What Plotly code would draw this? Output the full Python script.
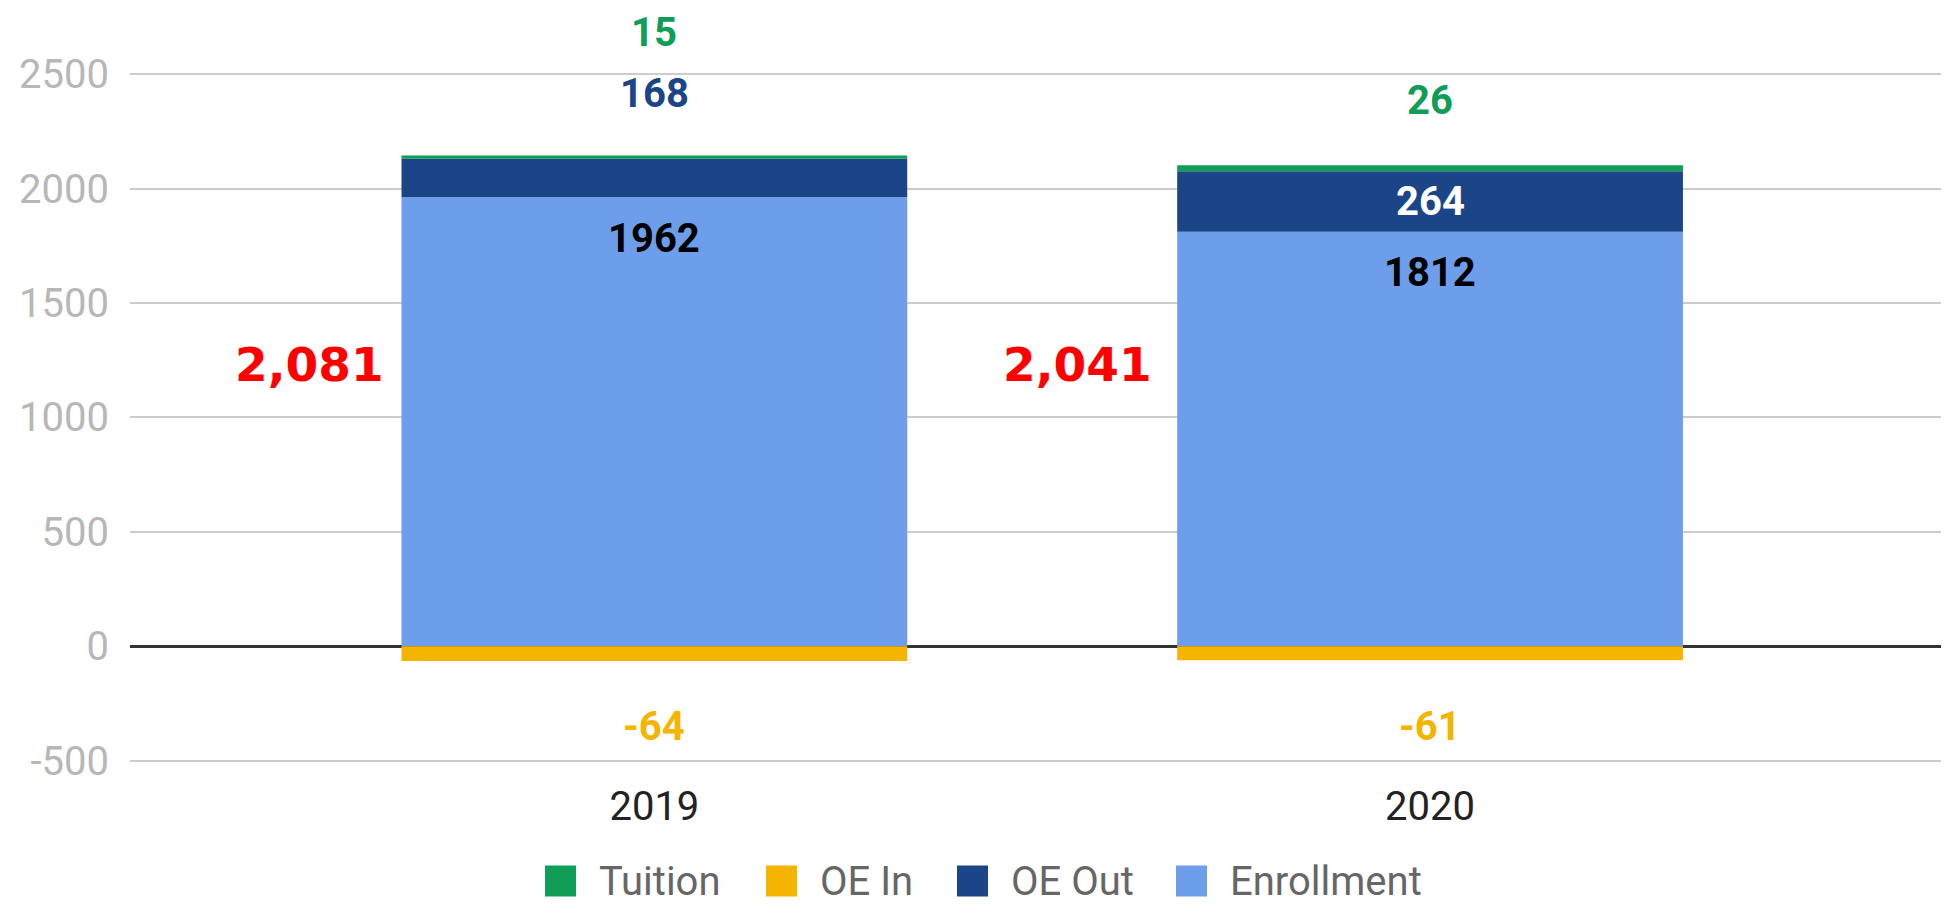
import plotly.graph_objects as go

years = ["2019", "2020"]
enrollment = [1962, 1812]
oe_out = [168, 264]
tuition = [15, 26]
oe_in = [-64, -61]
totals = [e + o + t + i for e, o, t, i in zip(enrollment, oe_out, tuition, oe_in)]
y_ticks = [-500, 0, 500, 1000, 1500, 2000, 2500]
legend_names = ["Tuition", "OE In", "OE Out", "Enrollment"]

C_ENR = "#6d9eeb"
C_OUT = "#1c4587"
C_TUI = "#0f9d58"
C_IN = "#f4b400"
BAR_W = 0.652

# the page body has an 8px margin: figure is sized/offset to fill the 1949x907 window
W, H = 1941, 899
ML, MT, MB = 122, 9, 128
PW, PH = W - ML, H - MT - MB

fig = go.Figure()
series = [("Enrollment", enrollment, C_ENR), ("OE Out", oe_out, C_OUT),
          ("Tuition", tuition, C_TUI), ("OE In", oe_in, C_IN)]
for name, vals, col in series:
    fig.add_bar(x=years, y=vals, name=name, marker_color=col, marker_line_width=0,
                width=BAR_W, showlegend=False)

LBL = dict(family="Roboto", size=40, weight="bold")
ann = []
# Enrollment labels: inside, near top
for i in range(len(years)):
    ann.append(dict(x=i, y=enrollment[i], yshift=-41, text=str(enrollment[i]), showarrow=False,
                    font=dict(LBL, color="#000000"), yanchor="middle", borderpad=0))
# OE Out
out_inside = [False, True]
for i in range(len(years)):
    top = enrollment[i] + oe_out[i] + tuition[i]
    if out_inside[i]:
        ann.append(dict(x=i, y=enrollment[i] + oe_out[i] / 2, text=str(oe_out[i]), showarrow=False,
                        font=dict(LBL, color="#ffffff"), yanchor="middle", borderpad=0))
    else:
        ann.append(dict(x=i, y=top, yshift=62, text=str(oe_out[i]), showarrow=False,
                        font=dict(LBL, color=C_OUT), yanchor="middle", borderpad=0))
# Tuition (outside, above)
tui_shift = [123, 65]
for i in range(len(years)):
    top = enrollment[i] + oe_out[i] + tuition[i]
    ann.append(dict(x=i, y=top, yshift=tui_shift[i], text=str(tuition[i]), showarrow=False,
                    font=dict(LBL, color=C_TUI), yanchor="middle", borderpad=0))
# OE In (outside, below)
for i in range(len(years)):
    ann.append(dict(x=i, y=oe_in[i], yshift=-66, text=str(oe_in[i]), showarrow=False,
                    font=dict(LBL, color=C_IN), yanchor="middle", borderpad=0))
# Red totals
tot_xshift = [-345, -353]
for i in range(len(years)):
    ann.append(dict(x=i, y=1232, xshift=tot_xshift[i], text=f"{totals[i]:,}", showarrow=False,
                    font=dict(family="DejaVu Sans", size=47, weight="bold", color="#ff0000"),
                    yanchor="middle", xanchor="center", borderpad=0))

# Legend (drawn as shapes + text to match the large square swatches)
legend_colors = [C_TUI, C_IN, C_OUT, C_ENR]
legend_sq_x = [537, 758, 949, 1168]   # swatch left edge, figure px
legend_txt_x = [590, 811, 1002, 1221]  # text left edge, figure px
LEG_Y = 873                           # legend centre, figure px
SQ = 31


def px_x(v):
    return (v - ML) / PW


def px_y(v):
    return (H - MB - v) / PH


shapes = []
for name, col, sx, tx in zip(legend_names, legend_colors, legend_sq_x, legend_txt_x):
    shapes.append(dict(type="rect", xref="paper", yref="paper",
                       x0=px_x(sx), x1=px_x(sx + SQ), y0=px_y(LEG_Y + SQ / 2), y1=px_y(LEG_Y - SQ / 2),
                       fillcolor=col, line=dict(width=0)))
    ann.append(dict(xref="paper", yref="paper", x=px_x(tx), y=px_y(LEG_Y), text=name,
                    showarrow=False, xanchor="left", yanchor="middle", borderpad=0,
                    font=dict(family="Roboto", size=40, color="#666666")))

fig.update_layout(
    width=W, height=H,
    barmode="relative",
    paper_bgcolor="white", plot_bgcolor="white",
    margin=dict(l=ML, r=0, t=MT, b=MB, autoexpand=False),
    showlegend=False,
    annotations=ann,
    shapes=shapes,
    font=dict(family="Roboto"),
)
fig.update_xaxes(type="category", range=[-0.676, 1.669], showgrid=False, showline=False,
                 tickfont=dict(family="Roboto", size=40, color="#222222"), ticks="", automargin=False)
fig.update_yaxes(range=[-580, 2750], tickvals=y_ticks, ticktext=[str(v) for v in y_ticks],
                 gridcolor="#cccccc", gridwidth=2, zeroline=True, zerolinecolor="#333333", zerolinewidth=3,
                 tickfont=dict(family="Roboto", size=40, color="#b7b7b7"), ticks="",
                 ticklabelstandoff=20, automargin=False)

fig.write_html("out.html")
